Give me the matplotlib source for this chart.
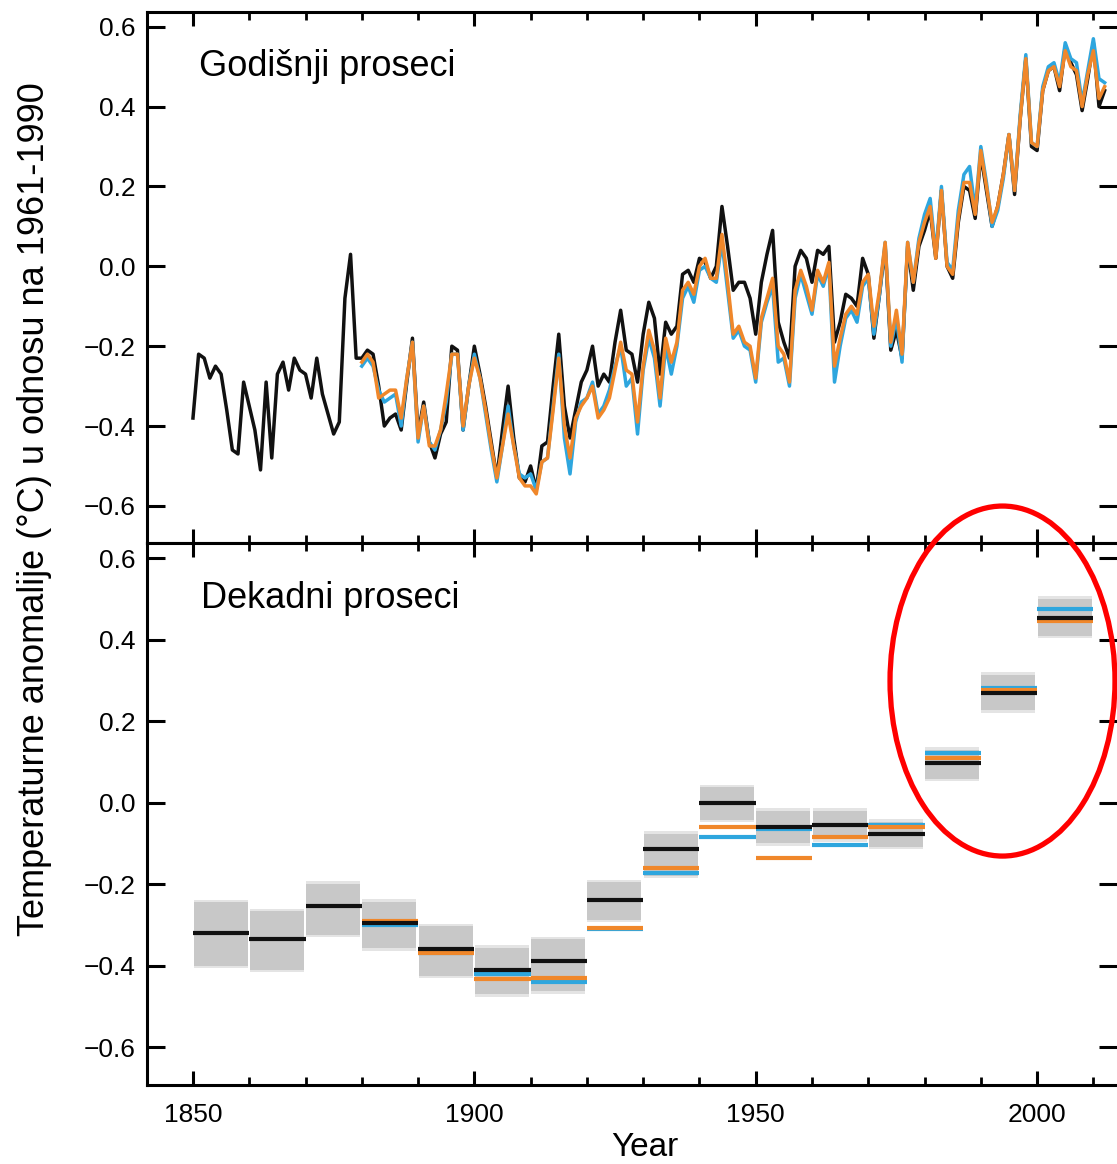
import numpy as np
import matplotlib
matplotlib.use('Agg')
from matplotlib import pyplot as plt
from matplotlib.patches import Ellipse

plt.rcParams['font.family'] = ['Liberation Sans', 'DejaVu Sans']

# godisnji proseci (annual means)
years_black = list(range(1850, 2013))
black = [-0.38, -0.22, -0.23, -0.28, -0.25, -0.27, -0.36, -0.46, -0.47, -0.29,
         -0.35, -0.41, -0.51, -0.29, -0.48, -0.27, -0.24, -0.31, -0.23, -0.26,
         -0.27, -0.33, -0.23, -0.32, -0.37, -0.42, -0.39, -0.08, 0.03, -0.23,
         -0.23, -0.21, -0.22, -0.30, -0.40, -0.38, -0.37, -0.41, -0.29, -0.18,
         -0.42, -0.34, -0.44, -0.48, -0.42, -0.39, -0.20, -0.21, -0.41, -0.30,
         -0.20, -0.27, -0.35, -0.44, -0.53, -0.41, -0.30, -0.43, -0.53, -0.54,
         -0.50, -0.56, -0.45, -0.44, -0.30, -0.17, -0.35, -0.43, -0.36, -0.29,
         -0.26, -0.20, -0.30, -0.27, -0.29, -0.19, -0.11, -0.21, -0.22, -0.29,
         -0.17, -0.09, -0.13, -0.27, -0.14, -0.17, -0.15, -0.02, -0.01, -0.04,
         0.02, 0.01, -0.03, 0.00, 0.15, 0.05, -0.06, -0.04, -0.04, -0.08,
         -0.17, -0.04, 0.03, 0.09, -0.14, -0.19, -0.23, 0.00, 0.04, 0.02,
         -0.04, 0.04, 0.03, 0.05, -0.19, -0.14, -0.07, -0.08, -0.10, 0.02,
         -0.02, -0.18, -0.07, 0.05, -0.21, -0.16, -0.23, 0.05, -0.06, 0.05,
         0.09, 0.14, 0.02, 0.19, 0.00, -0.03, 0.11, 0.20, 0.19, 0.12,
         0.28, 0.19, 0.10, 0.15, 0.23, 0.33, 0.18, 0.37, 0.52, 0.30,
         0.29, 0.44, 0.49, 0.50, 0.44, 0.55, 0.51, 0.48, 0.39, 0.47,
         0.56, 0.40, 0.44]

years_col = list(range(1880, 2013))
orange = [-0.24, -0.22, -0.24, -0.33, -0.32, -0.31, -0.31, -0.38, -0.28, -0.19,
          -0.43, -0.35, -0.45, -0.45, -0.41, -0.32, -0.22, -0.22, -0.40, -0.30,
          -0.23, -0.28, -0.36, -0.45, -0.53, -0.45, -0.37, -0.45, -0.53, -0.55,
          -0.55, -0.57, -0.49, -0.48, -0.36, -0.23, -0.40, -0.48, -0.38, -0.35,
          -0.33, -0.30, -0.38, -0.36, -0.33, -0.26, -0.19, -0.26, -0.27, -0.39,
          -0.25, -0.16, -0.21, -0.33, -0.18, -0.24, -0.19, -0.06, -0.04, -0.07,
          0.00, 0.02, -0.03, -0.03, 0.08, -0.04, -0.17, -0.15, -0.19, -0.20,
          -0.28, -0.13, -0.08, -0.03, -0.20, -0.22, -0.29, -0.06, -0.01, -0.05,
          -0.11, -0.01, -0.04, 0.01, -0.25, -0.18, -0.12, -0.10, -0.12, -0.04,
          -0.02, -0.15, -0.06, 0.06, -0.19, -0.11, -0.22, 0.06, -0.04, 0.06,
          0.11, 0.15, 0.02, 0.19, 0.00, -0.02, 0.12, 0.21, 0.21, 0.13,
          0.29, 0.20, 0.11, 0.15, 0.23, 0.33, 0.19, 0.37, 0.52, 0.31,
          0.30, 0.44, 0.49, 0.50, 0.45, 0.54, 0.50, 0.49, 0.40, 0.48,
          0.54, 0.42, 0.45]
blue = [-0.25, -0.23, -0.25, -0.31, -0.34, -0.33, -0.32, -0.40, -0.28, -0.19,
        -0.44, -0.35, -0.44, -0.46, -0.41, -0.34, -0.22, -0.22, -0.41, -0.30,
        -0.22, -0.28, -0.37, -0.46, -0.54, -0.45, -0.35, -0.45, -0.52, -0.53,
        -0.52, -0.56, -0.49, -0.48, -0.35, -0.22, -0.43, -0.52, -0.39, -0.34,
        -0.33, -0.29, -0.37, -0.35, -0.31, -0.25, -0.20, -0.30, -0.28, -0.42,
        -0.26, -0.18, -0.23, -0.35, -0.20, -0.27, -0.20, -0.08, -0.05, -0.09,
        -0.01, 0.00, -0.03, -0.04, 0.06, -0.06, -0.18, -0.16, -0.20, -0.21,
        -0.29, -0.14, -0.09, -0.05, -0.24, -0.23, -0.30, -0.08, -0.02, -0.07,
        -0.12, -0.02, -0.05, 0.00, -0.29, -0.20, -0.13, -0.11, -0.14, -0.05,
        -0.03, -0.17, -0.07, 0.06, -0.20, -0.13, -0.24, 0.06, -0.04, 0.07,
        0.13, 0.17, 0.03, 0.20, 0.01, -0.01, 0.14, 0.23, 0.25, 0.14,
        0.30, 0.21, 0.10, 0.14, 0.22, 0.33, 0.19, 0.38, 0.53, 0.31,
        0.30, 0.45, 0.50, 0.51, 0.46, 0.56, 0.52, 0.51, 0.41, 0.49,
        0.57, 0.47, 0.46]

# dekadni proseci (decadal means)
dec_black = list(range(1850, 2010, 10))
black_dec = [-0.32, -0.335, -0.255, -0.295, -0.36, -0.41, -0.39, -0.24,
             -0.115, 0.0, -0.06, -0.055, -0.077, 0.097, 0.27, 0.452]
box_low = [-0.40, -0.41, -0.324, -0.358, -0.425, -0.47, -0.463, -0.287,
           -0.18, -0.042, -0.10, -0.09, -0.108, 0.058, 0.226, 0.41]
box_high = [-0.245, -0.267, -0.199, -0.243, -0.304, -0.356, -0.336, -0.196,
            -0.076, 0.037, -0.02, -0.02, -0.047, 0.13, 0.314, 0.50]
dec_col = list(range(1880, 2010, 10))
orange_dec = [-0.29, -0.37, -0.432, -0.431, -0.309, -0.161, -0.061, -0.136,
              -0.084, -0.06, 0.109, 0.276, 0.446]
blue_dec = [-0.30, -0.37, -0.42, -0.44, -0.31, -0.172, -0.084, -0.065,
            -0.103, -0.055, 0.121, 0.282, 0.474]

c_black = '#111111'
c_blue = '#2ea6de'
c_orange = '#f0872a'

fig = plt.figure(figsize=(11.17, 11.64), dpi=100)
ax1 = fig.add_axes([0.1316, 0.5335, 0.8684, 0.4562])
ax2 = fig.add_axes([0.1316, 0.0679, 0.8684, 0.4656])

ax1.plot(years_black, black, color=c_black, lw=2.5, zorder=3)
ax1.plot(years_col, blue, color=c_blue, lw=2.5, zorder=4)
ax1.plot(years_col, orange, color=c_orange, lw=2.5, zorder=5)
ax1.text(0.0536, 0.898, 'Godišnji proseci', transform=ax1.transAxes,
         fontsize=26, va='center', ha='left')

for i, d in enumerate(dec_black):
    ax2.fill_between([d + 0.1, d + 9.7], box_low[i] - 0.006, box_high[i] + 0.006,
                     color='#e4e4e4', lw=0, zorder=1)
    ax2.fill_between([d + 0.1, d + 9.7], box_low[i], box_high[i],
                     color='#c8c8c8', lw=0, zorder=2)
for i, d in enumerate(dec_col):
    ax2.hlines(blue_dec[i], d, d + 10, color=c_blue, lw=3, zorder=3)
    ax2.hlines(orange_dec[i], d, d + 10, color=c_orange, lw=3, zorder=4)
ax2.hlines(black_dec, dec_black, [d + 10 for d in dec_black],
           color=c_black, lw=3, zorder=5)
ax2.text(0.0557, 0.898, 'Dekadni proseci', transform=ax2.transAxes,
         fontsize=26, va='center', ha='left')

for ax in (ax1, ax2):
    ax.set_xlim(1841.83, 2014.2)
    ax.set_ylim(-0.693, 0.637)
    ax.set_yticks(np.arange(-0.6, 0.61, 0.2))
    ax.set_yticklabels(['\u22120.6', '\u22120.4', '\u22120.2', '0.0', '0.2', '0.4', '0.6'])
    ax.set_xticks([1850, 1900, 1950, 2000])
    ax.set_xticks(list(range(1860, 2011, 10)), minor=True)
    ax.tick_params(axis='y', which='major', direction='in', length=13, width=2.2,
                   left=True, right=True, labelsize=19, pad=8)
    ax.tick_params(axis='x', which='major', direction='in', length=10, width=2.2,
                   top=True, bottom=True, labelsize=19, pad=13)
    ax.tick_params(axis='x', which='minor', direction='in', length=6, width=2,
                   top=True, bottom=True)
    for s in ('left', 'top', 'bottom'):
        ax.spines[s].set_linewidth(2.2)
    ax.spines['right'].set_visible(False)

ax1.tick_params(axis='x', labelbottom=False)

fig.text(0.0313, 0.5627, 'Temperaturne anomalije (°C) u odnosu na 1961-1990',
         rotation=90, fontsize=26, ha='center', va='center')
fig.text(0.5774, 0.0146, 'Year', fontsize=24, ha='center', va='center')

fig.add_artist(Ellipse((0.8975, 0.4149), 0.2014, 0.3007, transform=fig.transFigure,
                       fill=False, edgecolor='#ff0000', lw=3.8, clip_on=False, zorder=10))

fig.savefig('out.png', dpi=100)
